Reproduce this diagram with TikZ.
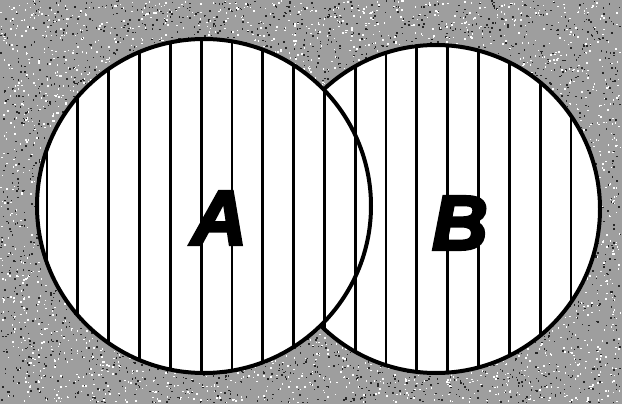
\documentclass[tikz,border=0pt]{standalone}
\usepackage{fontspec}
\newfontfamily\labfont{Liberation Sans}[BoldItalicFeatures={FakeBold=4}]
\begin{document}
\begin{tikzpicture}[x=1pt,y=-1pt,
  hatch/.style={line width=2.8pt},
  outline/.style={line width=4pt},
  lab/.style={font=\labfont\bfseries\itshape\fontsize{77}{77}\selectfont, inner sep=0pt}]
\useasboundingbox (0,0) rectangle (622,404);
\fill[black!38] (0,0) rectangle (622,404);
\pgfmathsetseed{7}
\foreach \i in {1,...,4200}{%
  \pgfmathsetmacro\xx{rnd*620}\pgfmathsetmacro\yy{rnd*402}%
  \fill[black!85] (\xx,\yy) rectangle ++(1.5,1.5);}
\foreach \i in {1,...,4200}{%
  \pgfmathsetmacro\xx{rnd*620}\pgfmathsetmacro\yy{rnd*402}%
  \fill[white] (\xx,\yy) rectangle ++(1.5,1.5);}
\coordinate (ca) at (204,206);
\coordinate (cb) at (436,209);
\fill[white] (ca) circle (167);
\fill[white] (cb) circle (164);
\begin{scope}
  \clip (ca) circle (167) (cb) circle (164);
  \foreach \k in {0,...,17} \draw[hatch] ({47+30.82*\k},0) -- ++(0,404);
\end{scope}
\begin{scope}[even odd rule]
  \clip (-10,-10) rectangle (632,414) (ca) circle (167);
  \draw[outline] (cb) circle (164);
\end{scope}
\draw[outline] (ca) circle (167);
\node[lab] (A) at (219,218) {A};
\node[lab] (B) at (460,223) {B};
\end{tikzpicture}
\end{document}
